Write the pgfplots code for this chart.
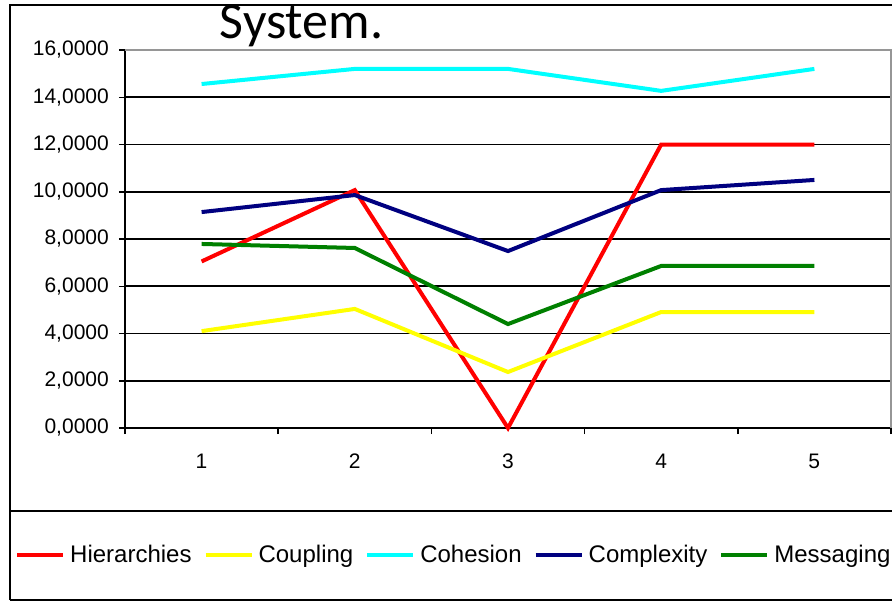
\documentclass[border=0pt]{standalone}
\usepackage{pgfplots}
\pgfplotsset{compat=1.18}
\usepackage{fontspec}
\setmainfont{Liberation Sans}
\newfontfamily\titlefont{Carlito}
\definecolor{redc}{RGB}{255,0,0}
\definecolor{yellowc}{RGB}{255,255,0}
\definecolor{cyanc}{RGB}{0,255,255}
\definecolor{navyc}{RGB}{0,0,128}
\definecolor{greenc}{RGB}{0,128,0}
\definecolor{bordergray}{RGB}{150,150,150}

\begin{document}
\begin{tikzpicture}
\useasboundingbox (-125pt,-175pt) rectangle (767pt,428pt);
\clip (-125pt,-175pt) rectangle (767pt,428pt);
\begin{axis}[
    at={(0pt,0pt)}, anchor=south west,
    scale only axis, width=766pt, height=378pt,
    xmin=0.5, xmax=5.5, ymin=0, ymax=16,
    clip=false,
    axis x line*=bottom, axis y line*=left,
    axis line style={black, line width=2pt, -},
    xtick={0.5,1.5,2.5,3.5,4.5,5.5},
    xticklabels={1,2,3,4,5,{}},
    x tick label style={xshift=76.5pt, inner sep=0pt, yshift=-20pt},
    ytick={0,2,...,16},
    y tick label style={inner sep=0pt, xshift=-10pt,
        /pgf/number format/.cd, fixed, fixed zerofill, precision=4, use comma, 1000 sep={}},
    /pgf/number format/assume math mode=true,
    tick label style={font=\fontsize{21}{25}\selectfont},
    tick align=outside, major tick length=6pt,
    tick style={black, line width=1.5pt},
    ymajorgrids, grid style={black, line width=1.8pt},
    legend columns=-1,
    legend style={at={(axis description cs:-0.1475,-0.336)}, anchor=west,
        draw=none, fill=none, font=\fontsize{24}{28}\selectfont,
        column sep=3pt, /tikz/every even column/.append style={column sep=10pt}},
    legend image code/.code={\draw[#1] (0pt,0pt) -- (46pt,0pt);},
]
\addplot[redc, line width=4pt] coordinates {(1,7.05) (2,10.07) (3,0) (4,12) (5,12)};
\addplot[yellowc, line width=4pt] coordinates {(1,4.1) (2,5.04) (3,2.37) (4,4.91) (5,4.91)};
\addplot[cyanc, line width=4pt] coordinates {(1,14.56) (2,15.2) (3,15.2) (4,14.27) (5,15.2)};
\addplot[navyc, line width=4pt] coordinates {(1,9.14) (2,9.86) (3,7.49) (4,10.07) (5,10.5)};
\addplot[greenc, line width=4pt] coordinates {(1,7.79) (2,7.62) (3,4.4) (4,6.86) (5,6.86)};
\legend{Hierarchies,Coupling,Cohesion,Complexity,Messaging}
\draw[bordergray, line width=2pt] (rel axis cs:0,1) -- (rel axis cs:1,1) -- (rel axis cs:1,0);
\end{axis}
% outer chart frame and legend separator
\draw[line width=2pt] (-115pt,-172pt) -- (-115pt,423pt) -- (800pt,423pt);
\draw[line width=2pt] (-115pt,-172pt) -- (800pt,-172pt);
\draw[line width=2pt] (-115pt,-83pt) -- (800pt,-83pt);
\node[anchor=base, font=\titlefont\fontsize{52}{60}\selectfont] at (176.5pt,389pt) {System.};
\end{tikzpicture}
\end{document}
